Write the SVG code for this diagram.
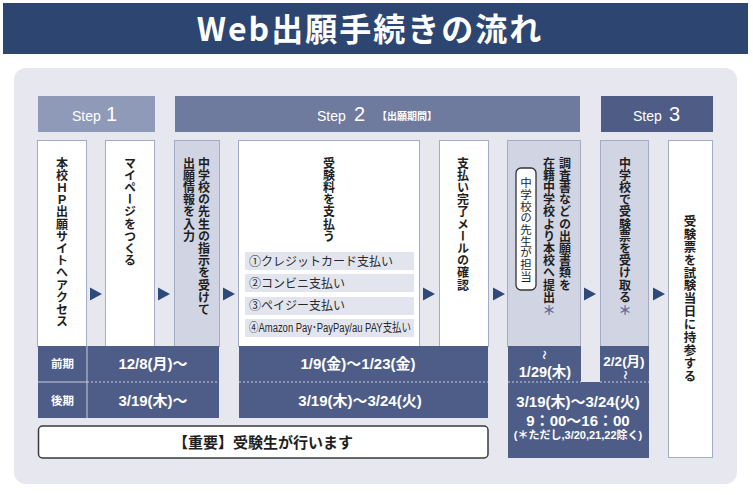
<svg xmlns="http://www.w3.org/2000/svg" width="753" height="495" viewBox="0 0 753 495">
<style>
.jp{font-family:"Noto Sans CJK JP","Noto Sans CJK SC",sans-serif;}
.mx{font-family:"Liberation Sans","Noto Sans CJK JP",sans-serif;}
.vt{writing-mode:vertical-rl;font-family:"Noto Sans CJK JP",sans-serif;font-weight:bold;font-size:12px;fill:#1e1e1e;letter-spacing:0.2px;}
.col{stroke:#a3abc5;stroke-width:1;}
.wc{fill:#ffffff;}
.sc{fill:#d1d5e3;}
.dk{fill:#4e5d87;}
.wt{fill:#ffffff;font-weight:bold;text-anchor:middle;}
.arr{fill:#2f4a7a;}
.ast{fill:#5d6e9e;font-size:13px;font-weight:bold;text-anchor:middle;}
.opt{fill:#e3e5ee;}
.ot{font-family:"Noto Sans CJK JP",sans-serif;font-size:12px;fill:#2a2a2a;}
.dash{stroke:#c9cee0;stroke-width:1;stroke-dasharray:2 2;}
.step{fill:#ffffff;font-family:"Liberation Sans",sans-serif;}
</style>
<defs>
<polygon id="tri" points="0,-6.5 12,0 0,6.5"/>
</defs>
<rect x="0" y="0" width="753" height="495" fill="#ffffff"/>
<g id="title">
<rect x="3" y="3" width="745" height="51" fill="#2d4671"/>
<text x="370" y="41" class="jp" font-size="32" font-weight="bold" fill="#ffffff" text-anchor="middle" letter-spacing="2">Web出願手続きの流れ</text>
</g>
<rect id="panel" x="14" y="68" width="723" height="416" rx="12" fill="#e7e8ef"/>
<g id="step1">
<rect x="38" y="96" width="117" height="36" fill="#8f9ab8"/>
<text class="step" x="72" y="121" font-size="14">Step</text>
<text class="step" x="106" y="121" font-size="20">1</text>
</g>
<g id="step2">
<rect x="175" y="96" width="405" height="36" fill="#6e7a9e"/>
<text class="step" x="317" y="121" font-size="14">Step</text>
<text class="step" x="354" y="121" font-size="20">2</text>
<text class="jp" x="377" y="120" font-size="10" font-weight="bold" fill="#ffffff">【出願期間】</text>
</g>
<g id="step3">
<rect x="601" y="96" width="112" height="36" fill="#4e5c86"/>
<text class="step" x="633" y="121" font-size="14">Step</text>
<text class="step" x="669" y="121" font-size="20">3</text>
</g>
<g id="col1">
<rect class="col wc" x="37.5" y="140.5" width="49" height="206"/>
<text class="vt" x="62" y="157">本校ＨＰ出願サイトへアクセス</text>
</g>
<g id="col2">
<rect class="col wc" x="105.5" y="140.5" width="49" height="206"/>
<text class="vt" x="130" y="157">マイページをつくる</text>
</g>
<g id="col3">
<rect class="col sc" x="174.5" y="140.5" width="45" height="206"/>
<text class="vt" x="204" y="157">中学校の先生の指示を受けて</text>
<text class="vt" x="189" y="157">出願情報を入力</text>
</g>
<g id="col4">
<rect class="col wc" x="238.5" y="140.5" width="181" height="206"/>
<text class="vt" x="329" y="157">受験料を支払う</text>
<rect class="opt" x="245" y="252" width="169" height="18"/>
<rect class="opt" x="245" y="274" width="169" height="18"/>
<rect class="opt" x="245" y="297" width="169" height="18"/>
<rect class="opt" x="245" y="319" width="169" height="18"/>
<text class="ot" x="249" y="265.5">①クレジットカード支払い</text>
<text class="ot" x="249" y="287.5">②コンビニ支払い</text>
<text class="ot" x="249" y="310">③ペイジー支払い</text>
<text class="ot" x="249" y="332" font-size="10" textLength="162" lengthAdjust="spacingAndGlyphs" style="font-family:'Liberation Sans','Noto Sans CJK JP',sans-serif">④Amazon Pay･PayPay/au PAY支払い</text>
</g>
<g id="col5">
<rect class="col wc" x="439.5" y="140.5" width="49" height="206"/>
<text class="vt" x="463" y="157">支払い完了メールの確認</text>
</g>
<g id="col6">
<rect class="col sc" x="507.5" y="140.5" width="73" height="206"/>
<text class="vt" x="565" y="157">調査書などの出願書類を</text>
<text class="vt" x="549" y="157">在籍中学校より本校へ提出</text>
<text class="jp ast" x="549" y="315">＊</text>
<rect x="516" y="168" width="20" height="122" rx="5" fill="#ffffff" stroke="#333333" stroke-width="1.3"/>
<text class="vt" x="526" y="177" style="font-weight:normal;font-size:11.5px">中学校の先生が担当</text>
</g>
<g id="col7">
<rect class="col sc" x="600.5" y="140.5" width="48" height="206"/>
<text class="vt" x="625" y="157">中学校で受験票を受け取る</text>
<text class="jp ast" x="625" y="315">＊</text>
</g>
<g id="col8">
<rect class="col wc" x="668.5" y="140.5" width="44" height="317"/>
<text class="vt" x="690" y="215" style="font-size:12.5px;letter-spacing:0.4px">受験票を試験当日に持参する</text>
</g>
<g id="dates-left">
<rect class="dk" x="38" y="346" width="181" height="72"/>
<line x1="87" y1="346" x2="87" y2="418" stroke="#c9cee0" stroke-width="1"/>
<line x1="38" y1="382" x2="87" y2="382" stroke="#c9cee0" stroke-width="1"/>
<line class="dash" x1="87" y1="382" x2="219" y2="382"/>
<text class="jp wt" x="62.5" y="368" font-size="11.5">前期</text>
<text class="jp wt" x="62.5" y="405" font-size="11.5">後期</text>
<text class="mx wt" x="153" y="369" font-size="15">12/8(月)～</text>
<text class="mx wt" x="153" y="406" font-size="15">3/19(木)～</text>
</g>
<g id="dates-mid">
<rect class="dk" x="239" y="346" width="249" height="72"/>
<line class="dash" x1="239" y1="382" x2="488" y2="382"/>
<text class="mx wt" x="358" y="369" font-size="15">1/9(金)～1/23(金)</text>
<text class="mx wt" x="360" y="406" font-size="15">3/19(木)～3/24(火)</text>
</g>
<g id="dates-right">
<path class="dk" d="M508,346 H581 V382 H600 V346 H649 V458 H508 Z"/>
<line class="dash" x1="508" y1="382" x2="581" y2="382"/>
<line class="dash" x1="600" y1="382" x2="649" y2="382"/>
<text class="mx wt" transform="translate(544,355) rotate(90)" font-size="9" font-weight="normal" dominant-baseline="central">～</text>
<text class="mx wt" x="545" y="377" font-size="14.5">1/29(木)</text>
<text class="mx wt" x="624" y="366" font-size="13.5">2/2(月)</text>
<text class="mx wt" transform="translate(625,375) rotate(90)" font-size="9" font-weight="normal" dominant-baseline="central">～</text>
<text class="mx wt" x="578" y="407" font-size="15">3/19(木)～3/24(火)</text>
<text class="mx wt" x="578" y="426" font-size="15">9：00～16：00</text>
<text class="mx wt" x="578" y="439" font-size="11" font-weight="normal">(＊ただし,3/20,21,22除く)</text>
</g>
<g id="note">
<rect x="38.5" y="426" width="449.5" height="32" rx="4" fill="#ffffff" stroke="#3a3a3a" stroke-width="1.5"/>
<text class="jp" x="263" y="448" font-size="15" font-weight="bold" fill="#1e1e1e" text-anchor="middle">【重要】受験生が行います</text>
</g>
<g id="connectors">
<use href="#tri" class="arr" x="90" y="294"/>
<use href="#tri" class="arr" x="158" y="294"/>
<use href="#tri" class="arr" x="223" y="294"/>
<use href="#tri" class="arr" x="423" y="294"/>
<use href="#tri" class="arr" x="493" y="294"/>
<use href="#tri" class="arr" x="584" y="294"/>
<use href="#tri" class="arr" x="653" y="294"/>
</g>
</svg>
